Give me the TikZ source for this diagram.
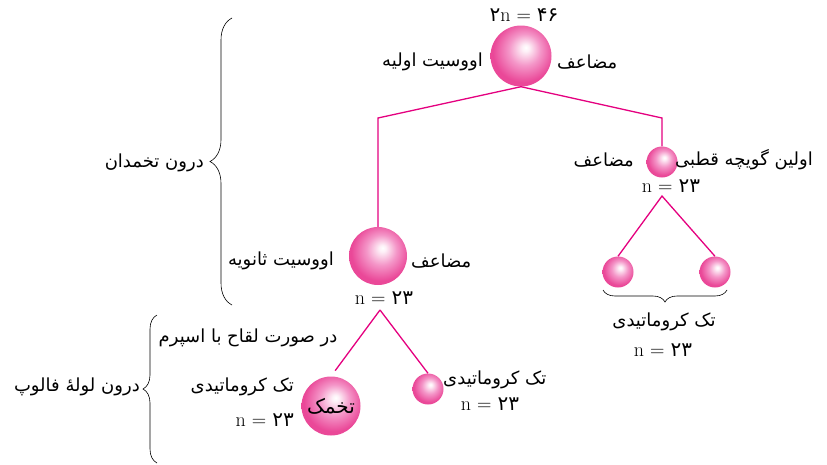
\documentclass[tikz,border=0pt]{standalone}
\usepackage{fontspec}
\usetikzlibrary{decorations.pathreplacing}
\newfontfamily\persianfont[Script=Arabic]{DejaVu Sans}
\TeXXeTstate=1
\newcommand\fatext[1]{{\persianfont\beginR #1\endR}}
\newcommand\nfa[1]{n = {\persianfont #1}}

\definecolor{linkpink}{RGB}{228,0,127}
\definecolor{ballrim}{RGB}{234,72,152}
\definecolor{ballmid}{RGB}{244,150,200}
\pgfdeclareradialshading{pinkball}{\pgfpoint{4bp}{7bp}}{color(0bp)=(white); color(3bp)=(white!85!ballmid); color(13bp)=(ballmid); color(25bp)=(ballrim); color(50bp)=(ballrim)}

\begin{document}
\begin{tikzpicture}[x=1pt,y=-1pt,
  cell/.style={circle,shading=pinkball,inner sep=0pt},
  link/.style={linkpink,line width=1.3pt},
  curly/.style={decorate,decoration={brace,amplitude=#1},line width=0.6pt},
  txt/.style={font=\fontsize{18}{21}\selectfont,inner sep=0pt},
  num/.style={font=\fontsize{20}{22}\selectfont,inner sep=0pt}]
  \useasboundingbox (0,0) rectangle (827,464);

  % primary oocyte
  \node[cell,minimum size=61pt] (oo1) at (521,56) {};
  \node[num] (n1) at (524,15) {{\persianfont ۲}n = {\persianfont ۴۶}};
  \node[txt,anchor=east] (t1) at (483,62) {\fatext{اووسیت اولیه}};
  \node[txt,anchor=west] (d1) at (557,62) {\fatext{مضاعف}};

  % secondary oocyte
  \node[cell,minimum size=58pt] (oo2) at (378,256) {};
  \node[txt,anchor=east] (t2) at (334,261) {\fatext{اووسیت ثانویه}};
  \node[txt,anchor=west] (d2) at (411,261) {\fatext{مضاعف}};
  \node[num] (n2) at (384,298) {\nfa{۲۳}};

  % first polar body
  \node[cell,minimum size=31pt] (pb) at (662,162) {};
  \node[txt,anchor=west] (t3) at (675,160) {\fatext{اولین گویچه قطبی}};
  \node[txt,anchor=east] (d3) at (634,160) {\fatext{مضاعف}};
  \node[num] (n3) at (671,186) {\nfa{۲۳}};

  % its two halves
  \node[cell,minimum size=31pt] (pba) at (618,272) {};
  \node[cell,minimum size=31pt] (pbb) at (715,272) {};
  \node[txt] (t4) at (664,322) {\fatext{تک کروماتیدی}};
  \node[num] (n4) at (663,350) {\nfa{۲۳}};

  % zygote and second polar body
  \node[cell,minimum size=59pt,num] (zy) at (331,406) {\fatext{تخمک}};
  \node[txt,anchor=east] (t5) at (294,387) {\fatext{تک کروماتیدی}};
  \node[num,anchor=east] (n5) at (294,420) {\nfa{۲۳}};
  \node[txt] (t6) at (248,338) {\fatext{در صورت لقاح با اسپرم}};
  \node[cell,minimum size=31pt] (pb2) at (428,389) {};
  \node[txt,anchor=west] (t7) at (443,380) {\fatext{تک کروماتیدی}};
  \node[num] (n7) at (490,404) {\nfa{۲۳}};

  % divisions
  \coordinate (kl) at (378,118);
  \coordinate (kr) at (662,118);
  \coordinate (s1) at (662,196);
  \coordinate (s2) at (380,310);
  \draw[link] (oo1.south) -- (kl) -- (oo2.north);
  \draw[link] (oo1.south) -- (kr) -- (pb.north);
  \draw[link] (pba.north) -- (s1) -- (pbb.north);
  \draw[link,shorten >=7pt] (s2) -- (zy.north);
  \draw[link] (s2) -- (pb2.north);

  % braces
  \coordinate (ba) at (232,305);
  \coordinate (bb) at (232,18);
  \draw[curly=22] (ba) -- (bb);
  \node[txt,anchor=east] (w1) at (204,163) {\fatext{درون تخمدان}};
  \coordinate (bc) at (157,463);
  \coordinate (bd) at (157,315);
  \draw[curly=14] (bc) -- (bd);
  \node[txt,anchor=east] (w2) at (140,387) {\fatext{درون لولهٔ فالوپ}};
  \coordinate (be) at (727,290);
  \coordinate (bf) at (603,290);
  \draw[curly=12] (be) -- (bf);
\end{tikzpicture}
\end{document}
